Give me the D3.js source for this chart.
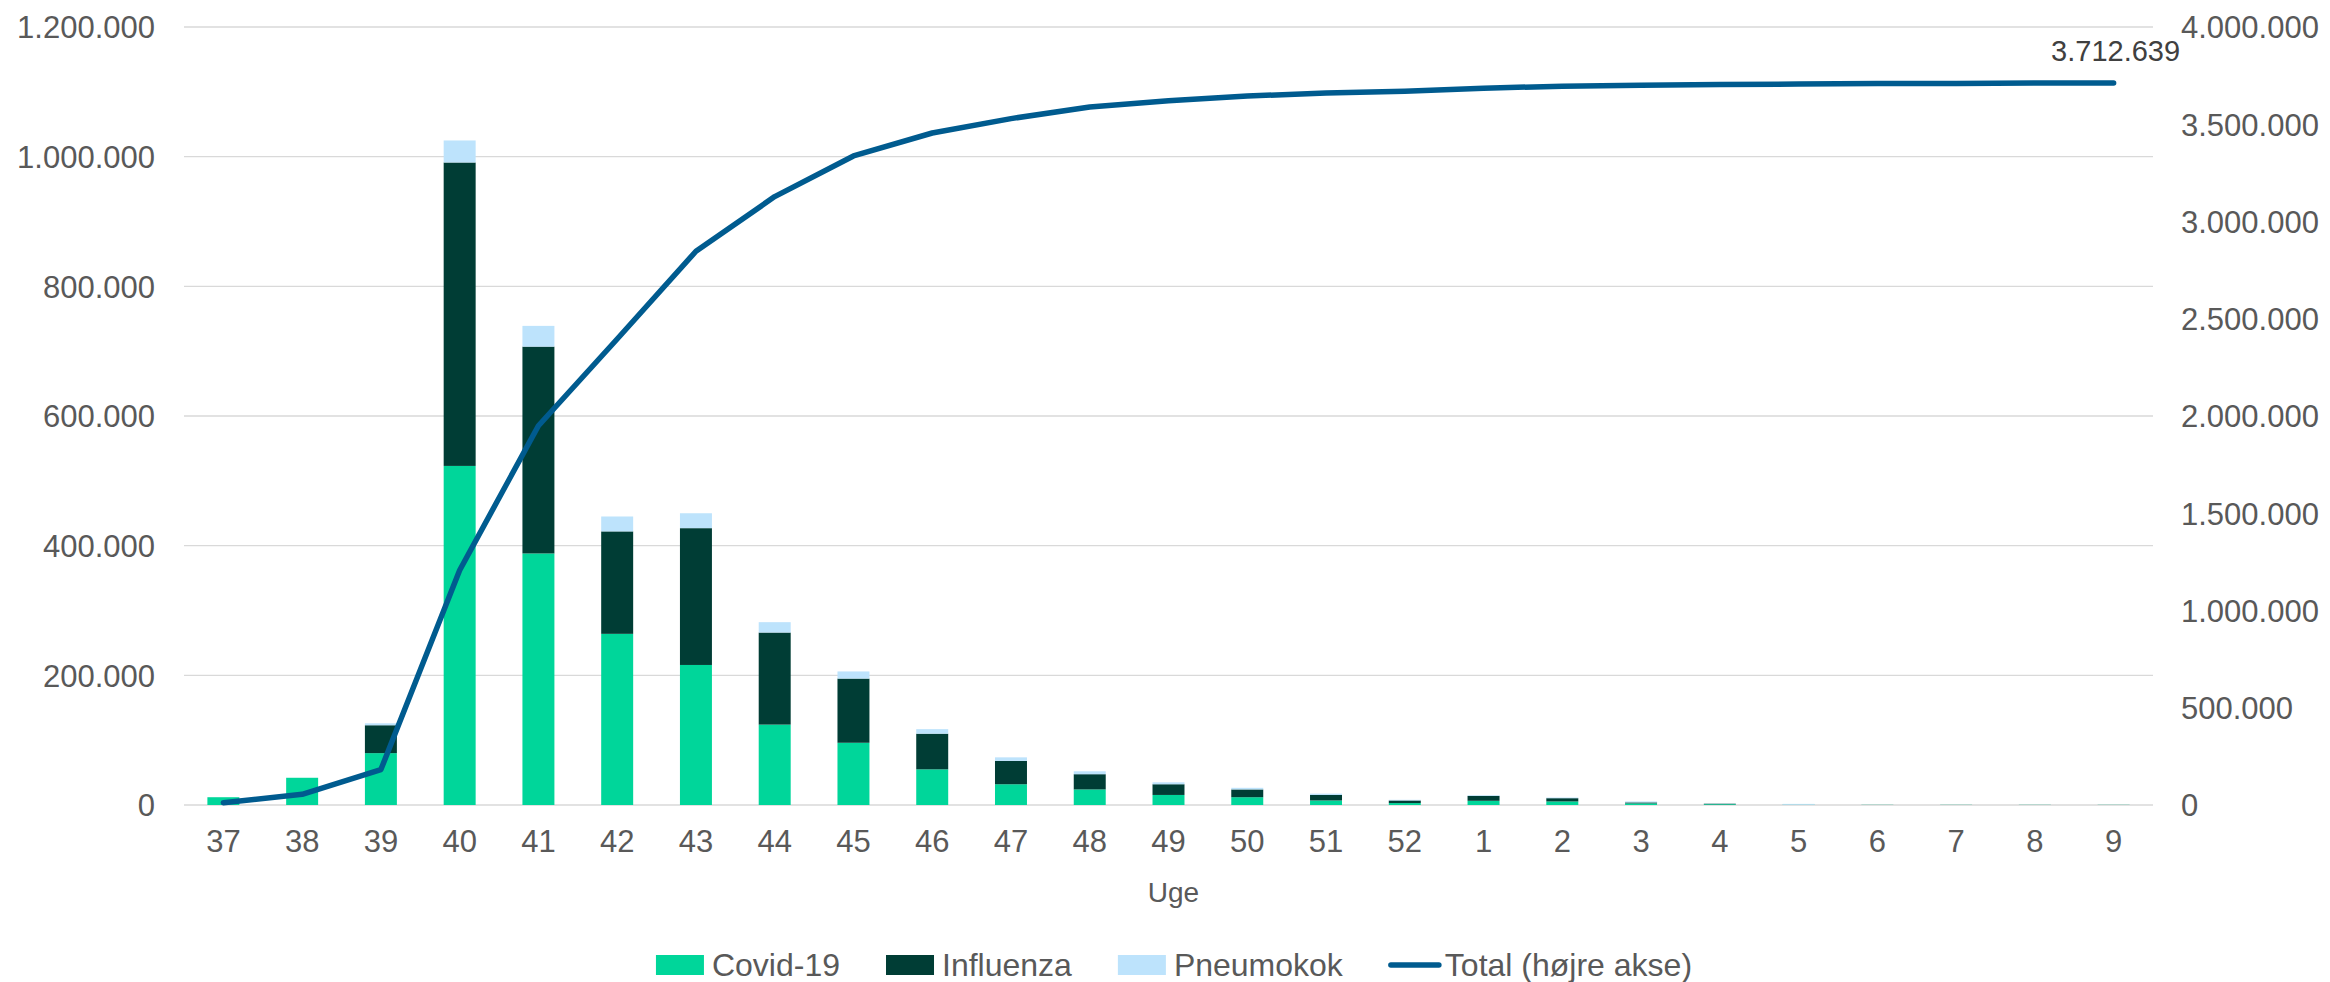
<!DOCTYPE html>
<html>
<head>
<meta charset="utf-8">
<script src="https://cdn.jsdelivr.net/npm/d3@7"></script>
<style>
  html, body { margin: 0; padding: 0; background: #ffffff; }
  svg { display: block; }
  text { font-family: "Liberation Sans", Arial, sans-serif; }
</style>
</head>
<body>
<svg id="chart" width="2330" height="982"></svg>
<script>
// ---- Data ----
const weeks = ["37","38","39","40","41","42","43","44","45","46","47","48","49","50","51","52","1","2","3","4","5","6","7","8","9"];
const covid = [12000,42000,80000,523000,388000,264000,216000,124000,96000,55000,32000,24000,15500,12000,7000,3000,6500,5500,2500,1200,300,200,200,200,200];
const influenza = [0,0,43000,468000,319000,158000,211000,142000,99000,55000,36000,23500,16500,12000,8500,4000,7500,5000,1500,800,200,100,100,100,100];
const pneumokok = [0,0,3000,34000,32000,23000,23000,16000,11000,7000,5500,4500,3000,2500,2000,1000,1000,1000,1500,300,1200,100,100,100,100];
const total = [12000,55000,182000,1207000,1950000,2396000,2847000,3128000,3337000,3455000,3529000,3589000,3621000,3645000,3661000,3670000,3685000,3696000,3701000,3704000,3707000,3709000,3710000,3711500,3712639];
const seriesNames = ["Covid-19","Influenza","Pneumokok"];
const lineName = "Total (højre akse)";
const leftTicks = [0,200000,400000,600000,800000,1000000,1200000];
const rightTicks = [0,500000,1000000,1500000,2000000,2500000,3000000,3500000,4000000];
const xTitle = "Uge";

// ---- Styles ----
const colors = ["#00D69A", "#003D35", "#BDE3FC"];
const lineColor = "#005B8F";
const gridColor = "#D9D9D9";
const textColor = "#595959";

const svg = d3.select("#chart");
const X0 = 184, X1 = 2153, YT = 27, YB = 805;

const locale = d3.formatLocale({decimal: ",", thousands: ".", grouping: [3], currency: ["", ""]});
const fmt = locale.format(",d");

const x = d3.scaleBand().domain(weeks).range([X0, X1]).paddingInner(0.594).paddingOuter(0.297);
const yL = d3.scaleLinear().domain([0, 1200000]).range([YB, YT]);
const yR = d3.scaleLinear().domain([0, 4000000]).range([YB, YT]);

// gridlines
svg.append("g").selectAll("line").data(leftTicks).join("line")
  .attr("x1", X0).attr("x2", X1)
  .attr("y1", d => yL(d)).attr("y2", d => yL(d))
  .attr("stroke", gridColor).attr("stroke-width", 1.4);

// left axis
const gl = svg.append("g").attr("transform", `translate(${X0 - 29},0)`)
  .call(d3.axisLeft(yL).tickValues(leftTicks).tickFormat(fmt).tickSize(0).tickPadding(0));
gl.select(".domain").remove();
gl.selectAll("text").attr("fill", textColor).style("font-size", "31px").attr("dy", "0.35em");

// right axis
const gr = svg.append("g").attr("transform", `translate(${X1 + 28},0)`)
  .call(d3.axisRight(yR).tickValues(rightTicks).tickFormat(fmt).tickSize(0).tickPadding(0));
gr.select(".domain").remove();
gr.selectAll("text").attr("fill", textColor).style("font-size", "31px").attr("dy", "0.35em");

// x axis
const gx = svg.append("g").attr("transform", `translate(0,${YB})`)
  .call(d3.axisBottom(x).tickSize(0).tickPadding(0));
gx.select(".domain").remove();
gx.selectAll("text").attr("fill", textColor).style("font-size", "31px").attr("y", 47).attr("dy", 0);

svg.append("text").attr("x", (X0 + X1) / 2 + 5).attr("y", 902)
  .attr("text-anchor", "middle").attr("fill", textColor).style("font-size", "28px").text(xTitle);

// stacked bars
const rows = weeks.map((w, i) => ({week: w, c: covid[i], f: influenza[i], p: pneumokok[i]}));
const stack = d3.stack().keys(["c", "f", "p"])(rows);
svg.append("g").selectAll("g").data(stack).join("g")
  .attr("fill", (d, i) => colors[i])
  .selectAll("rect").data(d => d).join("rect")
  .attr("x", d => x(d.data.week))
  .attr("width", x.bandwidth())
  .attr("y", d => yL(d[1]))
  .attr("height", d => Math.max(0, yL(d[0]) - yL(d[1])));

// line
const cx = w => x(w) + x.bandwidth() / 2;
svg.append("path").datum(total)
  .attr("fill", "none").attr("stroke", lineColor).attr("stroke-width", 5.5)
  .attr("stroke-linejoin", "round").attr("stroke-linecap", "round")
  .attr("d", d3.line().x((d, i) => cx(weeks[i])).y(d => yR(d)));

// data label
const li = total.length - 1;
svg.append("text").attr("x", cx(weeks[li]) + 2).attr("y", yR(total[li]) - 22)
  .attr("text-anchor", "middle").attr("fill", "#404040").style("font-size", "29px")
  .text(fmt(total[li]));

// legend
const legendItems = seriesNames.map((n, i) => ({name: n, type: "rect", color: colors[i]}))
  .concat([{name: lineName, type: "line", color: lineColor}]);
const lg = svg.append("g");
let cursor = 0;
const items = lg.selectAll("g").data(legendItems).join("g");
items.each(function(d) {
  const g = d3.select(this);
  if (d.type === "rect") {
    g.append("rect").attr("x", 0).attr("y", -10).attr("width", 48).attr("height", 20).attr("fill", d.color);
  } else {
    g.append("line").attr("x1", 2).attr("x2", 50).attr("y1", 0).attr("y2", 0)
      .attr("stroke", d.color).attr("stroke-width", 5.5).attr("stroke-linecap", "round");
  }
  const t = g.append("text").attr("x", 56).attr("y", 0).attr("dy", "0.35em")
    .attr("fill", textColor).style("font-size", "32px").text(d.name);
  d.w = 56 + t.node().getComputedTextLength();
});
items.attr("transform", d => { const tx = cursor; cursor += d.w + 46; return `translate(${tx},0)`; });
const totalW = cursor - 46;
lg.attr("transform", `translate(${1174 - totalW / 2},965)`);
</script>
</body>
</html>
